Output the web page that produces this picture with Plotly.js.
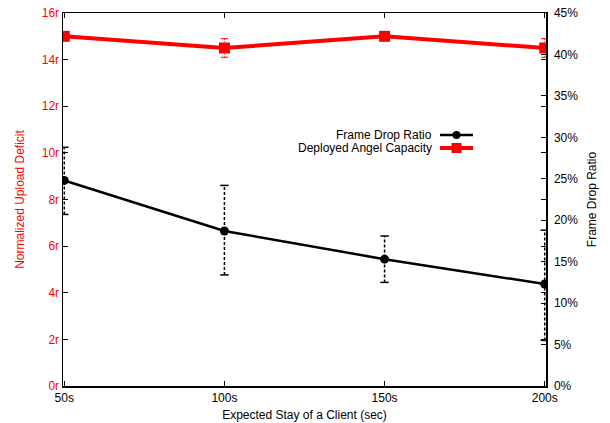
<!DOCTYPE html>
<html>
<head>
<meta charset="utf-8">
<script src="https://cdn.plot.ly/plotly-3.0.1.min.js"></script>
<style>html,body{margin:0;padding:0;background:#fff;}#chart{width:610px;height:423px;}</style>
</head>
<body>
<div id="chart"></div>
<script>
var stay = [50, 100, 150, 200];
var stayLabels = ['50s', '100s', '150s', '200s'];

var frameDrop = [24.8, 18.7, 15.3, 12.3];
var frameDropLow = [20.7, 13.4, 12.5, 5.5];
var frameDropHigh = [28.8, 24.2, 18.1, 18.8];

var angelCap = [15.0, 14.5, 15.0, 14.5];
var angelErr = [0, 0.4, 0, 0.4];

var leftTicks = [0, 2, 4, 6, 8, 10, 12, 14, 16];
var rightTicks = [0, 5, 10, 15, 20, 25, 30, 35, 40, 45];

var FONT = 'Liberation Sans, Arial, sans-serif';

// dashed error segments for frame drop
var ex = [], ey = [], capx = [], capy = [];
for (var i = 0; i < stay.length; i++) {
  ex.push(stay[i], stay[i], null);
  ey.push(frameDropLow[i], frameDropHigh[i], null);
  capx.push(stay[i], stay[i]);
  capy.push(frameDropLow[i], frameDropHigh[i]);
}
// dotted error segments for angel capacity
var rx = [], ry = [], rcx = [], rcy = [];
for (var j = 0; j < stay.length; j++) {
  if (angelErr[j] > 0) {
    rx.push(stay[j], stay[j], null);
    ry.push(angelCap[j] - angelErr[j], angelCap[j] + angelErr[j], null);
    rcx.push(stay[j], stay[j]);
    rcy.push(angelCap[j] - angelErr[j], angelCap[j] + angelErr[j]);
  }
}

var traces = [
  {
    x: rx, y: ry, xaxis: 'x', yaxis: 'y', type: 'scatter', mode: 'lines',
    line: {color: '#ff0000', width: 1, dash: '1px,1.5px'}, showlegend: false, hoverinfo: 'skip'
  },
  {
    x: rcx, y: rcy, xaxis: 'x', yaxis: 'y', type: 'scatter', mode: 'markers',
    marker: {symbol: 'line-ew', size: 5, line: {color: '#ff0000', width: 1}}, showlegend: false, hoverinfo: 'skip'
  },
  {
    x: stay, y: angelCap, xaxis: 'x', yaxis: 'y', type: 'scatter', mode: 'lines+markers',
    line: {color: '#ff0000', width: 4}, marker: {symbol: 'square', size: 11, color: '#ff0000'},
    showlegend: false, hoverinfo: 'skip'
  },
  {
    x: ex, y: ey, xaxis: 'x', yaxis: 'y2', type: 'scatter', mode: 'lines',
    line: {color: '#000', width: 1.5, dash: '3px,2px'}, showlegend: false, hoverinfo: 'skip'
  },
  {
    x: capx, y: capy, xaxis: 'x', yaxis: 'y2', type: 'scatter', mode: 'markers',
    marker: {symbol: 'line-ew', size: 6, line: {color: '#000', width: 1.5}}, showlegend: false, hoverinfo: 'skip'
  },
  {
    x: stay, y: frameDrop, xaxis: 'x', yaxis: 'y2', type: 'scatter', mode: 'lines+markers',
    line: {color: '#000', width: 2.5}, marker: {symbol: 'circle', size: 9, color: '#000'},
    showlegend: false, hoverinfo: 'skip'
  }
];

// legend drawn by hand (text left, sample right) in paper coordinates
var pw = 610 - 63 - 64, ph = 423 - 13 - 37;
function px(x) { return (x - 63) / pw; }
function py(y) { return (423 - 37 - y) / ph; }

var layout = {
  width: 610, height: 423,
  margin: {l: 63, r: 64, t: 13, b: 37},
  paper_bgcolor: '#fff', plot_bgcolor: '#fff',
  font: {family: FONT, size: 12, color: '#000'},
  showlegend: false,
  xaxis: {
    range: [49.6, 200.4], tickvals: stay, ticktext: stayLabels,
    ticks: 'inside', ticklen: 5, tickwidth: 1, tickcolor: '#000',
    showline: true, linecolor: '#000', linewidth: 1.5, mirror: 'ticks',
    showgrid: false, zeroline: false,
    tickfont: {family: FONT, size: 12, color: '#000'},
    title: {text: 'Expected Stay of a Client (sec)', font: {family: FONT, size: 12, color: '#000'}, standoff: 6}
  },
  yaxis: {
    range: [0, 16], tickvals: leftTicks, ticktext: leftTicks.map(function (v) { return v + 'r'; }),
    ticks: 'inside', ticklen: 5, tickwidth: 1, tickcolor: '#000',
    showline: true, linecolor: '#000', linewidth: 1.5, mirror: 'ticks',
    showgrid: false, zeroline: false,
    tickfont: {family: FONT, size: 12, color: '#ff0000'},
    title: {text: 'Normalized Upload Deficit', font: {family: FONT, size: 12, color: '#ff0000'}, standoff: 14}
  },
  yaxis2: {
    overlaying: 'y', side: 'right', range: [0, 45], tickvals: rightTicks,
    ticktext: rightTicks.map(function (v) { return v + '%'; }),
    ticks: 'inside', ticklen: 5, tickwidth: 1, tickcolor: '#000', ticklabelstandoff: 4,
    showline: true, linecolor: '#000', linewidth: 1.5,
    showgrid: false, zeroline: false,
    tickfont: {family: FONT, size: 12, color: '#000'},
    title: {text: 'Frame Drop Ratio', font: {family: FONT, size: 12, color: '#000'}, standoff: 10}
  },
  annotations: [
    {xref: 'paper', yref: 'paper', x: px(434), y: py(135), xanchor: 'right', yanchor: 'middle',
     text: 'Frame Drop Ratio', showarrow: false, font: {family: FONT, size: 12, color: '#000'}},
    {xref: 'paper', yref: 'paper', x: px(434), y: py(148), xanchor: 'right', yanchor: 'middle',
     text: 'Deployed Angel Capacity', showarrow: false, font: {family: FONT, size: 12, color: '#000'}}
  ],
  shapes: [
    {type: 'line', xref: 'paper', yref: 'paper', x0: px(440), x1: px(473), y0: py(135), y1: py(135),
     line: {color: '#000', width: 2.5}},
    {type: 'circle', xref: 'paper', yref: 'paper', x0: px(452.5), x1: px(460.5), y0: py(139), y1: py(131),
     fillcolor: '#000', line: {color: '#000', width: 0}},
    {type: 'line', xref: 'paper', yref: 'paper', x0: px(440), x1: px(473), y0: py(148), y1: py(148),
     line: {color: '#ff0000', width: 4}},
    {type: 'rect', xref: 'paper', yref: 'paper', x0: px(451.5), x1: px(461.5), y0: py(153), y1: py(143),
     fillcolor: '#ff0000', line: {color: '#ff0000', width: 0}}
  ]
};

Plotly.newPlot('chart', traces, layout, {displayModeBar: false, staticPlot: true});
</script>
</body>
</html>
